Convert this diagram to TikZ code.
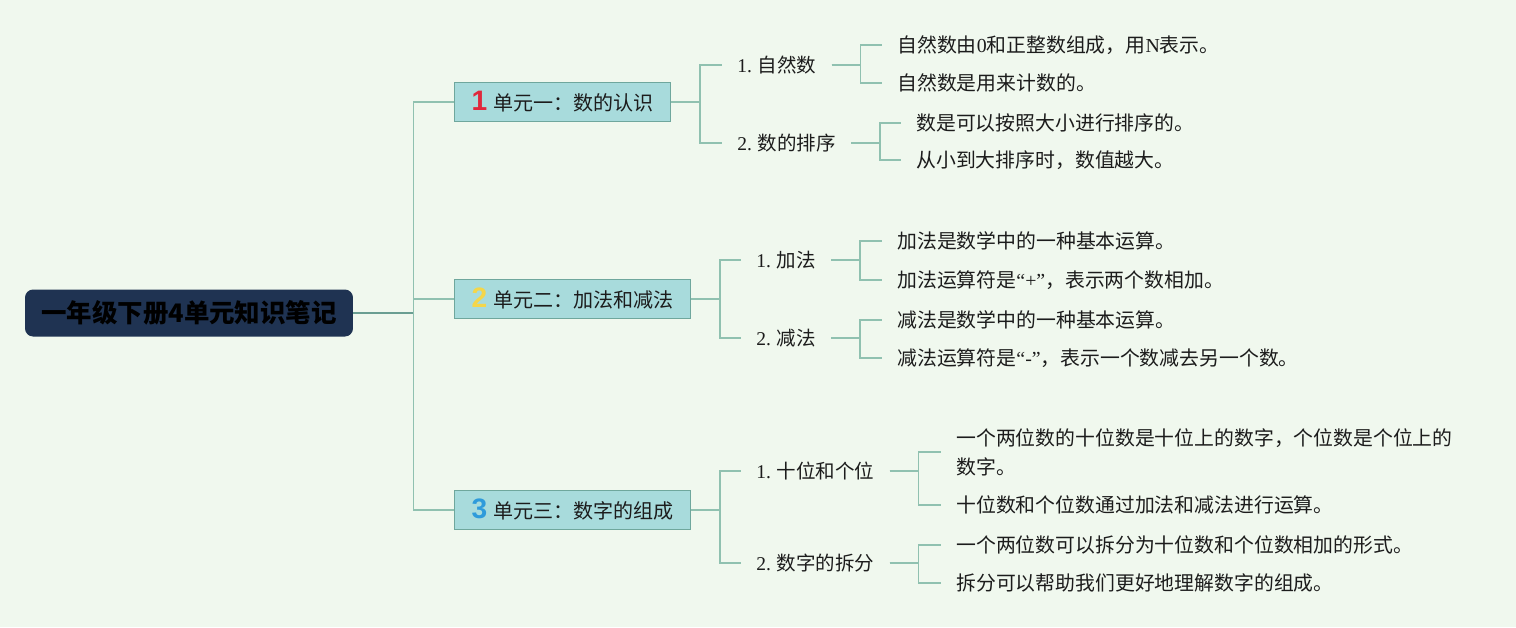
\documentclass[tikz,border=0pt]{standalone}
\usepackage{fontspec}
\setmainfont{Liberation Serif}
\newfontfamily\cjk{Noto Sans CJK SC}
\newfontfamily\numfont{Liberation Sans}
\newcommand{\lat}[1]{{\rmfamily #1}}
\definecolor{bgmint}{HTML}{F0F8EE}
\definecolor{rootnavy}{HTML}{1F3352}
\definecolor{unitfill}{HTML}{A8DBDC}
\definecolor{unitedge}{HTML}{6FA79D}
\definecolor{linkgreen}{HTML}{90C1B0}
\definecolor{rootlinkc}{HTML}{6A9E92}
\definecolor{textdark}{HTML}{1C1C1C}
\definecolor{numred}{HTML}{E0283C}
\definecolor{numyellow}{HTML}{F4D64A}
\definecolor{numblue}{HTML}{2E9BDB}
\begin{document}
\begin{tikzpicture}[
    x=0.02cm, y=-0.02cm,
    root/.style={rectangle, rounded corners=0.16cm, fill=rootnavy, minimum width=6.56cm, minimum height=0.94cm, inner xsep=2pt, font=\cjk\fontsize{14.5}{18}\selectfont\bfseries, text=black},
    unit/.style={rectangle, draw=unitedge, fill=unitfill, line width=0.6pt, minimum height=0.78cm, inner xsep=0.34cm, anchor=west, font=\cjk\fontsize{11.4}{13}\selectfont, text=textdark},
    topic/.style={inner xsep=0.3cm, inner ysep=2pt, anchor=west, font=\cjk\fontsize{11.1}{13}\selectfont, text=textdark},
    leaf/.style={topic, align=left, font=\cjk\fontsize{11.3}{16.5}\selectfont},
    link/.style={draw=linkgreen, line width=0.8pt},
    rootlink/.style={draw=rootlinkc, line width=0.7pt},
]
\fill[bgmint] (0,0) rectangle (1516,627);
\useasboundingbox (0,0) rectangle (1516,627);

\node[root] (ROOT) at (189,313) {一年级下册4单元知识笔记};

\node[unit] (U1) at (454,102) {{\numfont\bfseries\fontsize{16}{16}\selectfont\color{numred}1}\hspace{0.12cm}单元一：数的认识};
\node[unit] (U2) at (454,299) {{\numfont\bfseries\fontsize{16}{16}\selectfont\color{numyellow}2}\hspace{0.12cm}单元二：加法和减法};
\node[unit] (U3) at (454,510) {{\numfont\bfseries\fontsize{16}{16}\selectfont\color{numblue}3}\hspace{0.12cm}单元三：数字的组成};

\node[topic] (S11) at (722,65) {\lat{1.} 自然数};
\node[topic] (S12) at (722,143) {\lat{2.} 数的排序};
\node[topic] (S21) at (741,260) {\lat{1.} 加法};
\node[topic] (S22) at (741,338) {\lat{2.} 减法};
\node[topic] (S31) at (741,471) {\lat{1.} 十位和个位};
\node[topic] (S32) at (741,563) {\lat{2.} 数字的拆分};

\node[leaf] (L111) at (882,45) {自然数由\lat{0}和正整数组成，用\lat{N}表示。};
\node[leaf] (L112) at (882,83) {自然数是用来计数的。};
\node[leaf] (L121) at (901,123) {数是可以按照大小进行排序的。};
\node[leaf] (L122) at (901,160) {从小到大排序时，数值越大。};
\node[leaf] (L211) at (882,241) {加法是数学中的一种基本运算。};
\node[leaf] (L212) at (882,280) {加法运算符是\lat{“+”}，表示两个数相加。};
\node[leaf] (L221) at (882,320) {减法是数学中的一种基本运算。};
\node[leaf] (L222) at (882,358) {减法运算符是\lat{“-”}，表示一个数减去另一个数。};
\node[leaf] (L311) at (941,452) {一个两位数的十位数是十位上的数字，个位数是个位上的\\数字。};
\node[leaf] (L312) at (941,505) {十位数和个位数通过加法和减法进行运算。};
\node[leaf] (L321) at (941,545) {一个两位数可以拆分为十位数和个位数相加的形式。};
\node[leaf] (L322) at (941,583) {拆分可以帮助我们更好地理解数字的组成。};

\draw[rootlink] (ROOT.east) -- ++(60,0) coordinate (TRUNK);
\draw[link] (TRUNK) |- (U1.west);
\draw[link] (TRUNK) |- (U2.west);
\draw[link] (TRUNK) |- (U3.west);

\draw[link] (U1.east) -- ++(29,0) |- (S11.west);
\draw[link] (U1.east) -- ++(29,0) |- (S12.west);
\draw[link] (U2.east) -- ++(29,0) |- (S21.west);
\draw[link] (U2.east) -- ++(29,0) |- (S22.west);
\draw[link] (U3.east) -- ++(29,0) |- (S31.west);
\draw[link] (U3.east) -- ++(29,0) |- (S32.west);

\draw[link] (S11.east) -- ++(29,0) |- (L111.west);
\draw[link] (S11.east) -- ++(29,0) |- (L112.west);
\draw[link] (S12.east) -- ++(29,0) |- (L121.west);
\draw[link] (S12.east) -- ++(29,0) |- (L122.west);
\draw[link] (S21.east) -- ++(29,0) |- (L211.west);
\draw[link] (S21.east) -- ++(29,0) |- (L212.west);
\draw[link] (S22.east) -- ++(29,0) |- (L221.west);
\draw[link] (S22.east) -- ++(29,0) |- (L222.west);
\draw[link] (S31.east) -- ++(29,0) |- (L311.west);
\draw[link] (S31.east) -- ++(29,0) |- (L312.west);
\draw[link] (S32.east) -- ++(29,0) |- (L321.west);
\draw[link] (S32.east) -- ++(29,0) |- (L322.west);
\end{tikzpicture}
\end{document}
